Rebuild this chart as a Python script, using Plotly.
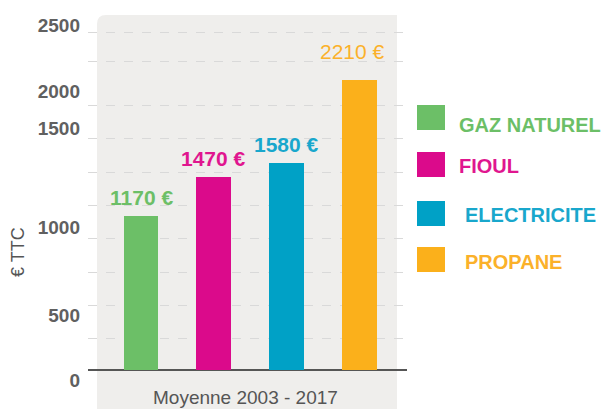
import plotly.graph_objects as go

# ---- data ----
categories = ["GAZ NATUREL", "FIOUL", "ELECTRICITE", "PROPANE"]
values = [1170, 1470, 1580, 2210]
colors = ["#6cbf67", "#db0a8b", "#00a1c6", "#fbb01b"]
text_colors = ["#6cbf67", "#e0168f", "#19a7cc", "#fbb12a"]
tick_labels = ["2500", "2000", "1500", "1000", "500", "0"]
x_title = "Moyenne 2003 - 2017"
y_title = "€ TTC"

# ---- layout helpers (pixel geometry of the picture) ----
W, H = 611, 409
L, R, T, B = 88, 407, 15, 409
Y0_PX = 370            # pixel row of value 0
UPP = 7.62             # value units per pixel


def xp(px):
    return (px - L) / (R - L)


def yp(py):
    return (B - py) / (B - T)


def val_at(py):
    return (Y0_PX - py) * UPP


y_range = [val_at(B), val_at(T)]
tick_pos = [val_at(p) for p in (25, 91, 128, 227, 315, 380)]
grid_pos = [val_at(p) for p in (338, 305, 272, 238, 205, 172, 138, 105, 61, 32)]

fig = go.Figure()
fig.add_trace(go.Bar(
    x=categories, y=values, marker=dict(color=colors, line=dict(width=0)),
    width=0.48, showlegend=False, hoverinfo="x+y",
))

annotations = []
# value labels
label_shift = [(0, 5, "bold"), (0, 5, "bold"), (0, 5, "bold"), (-7, 15, "normal")]
for c, v, tc, (dx, dy, wgt) in zip(categories, values, text_colors, label_shift):
    annotations.append(dict(
        x=c, y=v, xref="x", yref="y", text=f"{v} €", showarrow=False,
        yanchor="bottom", xanchor="center", xshift=dx, yshift=dy,
        font=dict(family="Liberation Sans, Arial", size=21, color=tc, weight=wgt),
    ))

# custom legend
shapes = []
leg_sq = [105, 152, 201, 247]
leg_txt = [(457, 125), (457, 166), (463, 215), (463, 262)]
for name, col, tc, sq, (tx, ty) in zip(categories, colors, text_colors, leg_sq, leg_txt):
    shapes.append(dict(type="rect", xref="paper", yref="paper",
                       x0=xp(417), x1=xp(445), y0=yp(sq + 25), y1=yp(sq),
                       fillcolor=col, line=dict(width=0), layer="above"))
    annotations.append(dict(
        x=xp(tx), y=yp(ty), xref="paper", yref="paper", text=name,
        showarrow=False, xanchor="left", yanchor="middle",
        font=dict(family="Liberation Sans, Arial", size=20, color=tc, weight="bold"),
    ))

# x title and y title
annotations.append(dict(
    x=xp(245), y=yp(397), xref="paper", yref="paper", text=x_title,
    showarrow=False, xanchor="center", yanchor="middle",
    font=dict(family="Liberation Sans, Arial", size=19, color="#555555"),
))
annotations.append(dict(
    x=xp(18), y=yp(252), xref="paper", yref="paper", text=y_title,
    showarrow=False, xanchor="center", yanchor="middle", textangle=-90,
    font=dict(family="Liberation Sans, Arial", size=18, color="#555555"),
))

# grey panel with rounded top-left corner
x0, x1 = xp(97), xp(397)
y0, y1 = 0, 1
rx, ry = 9 / (R - L), 9 / (B - T)
panel_path = (f"M {x0},{y0} L {x0},{y1 - ry} Q {x0},{y1} {x0 + rx},{y1} "
              f"L {x1},{y1} L {x1},{y0} Z")
shapes.insert(0, dict(type="path", xref="paper", yref="paper", path=panel_path,
                      fillcolor="#efeeec", line=dict(width=0), layer="below"))

fig.update_layout(
    width=W, height=H,
    margin=dict(l=L, r=W - R, t=T, b=H - B, pad=0),
    paper_bgcolor="white", plot_bgcolor="rgba(0,0,0,0)",
    font=dict(family="Liberation Sans, Arial", color="#555555"),
    shapes=shapes, annotations=annotations,
    bargap=0,
    xaxis=dict(type="category", range=[-0.729, 3.659], showticklabels=False,
               showgrid=False, zeroline=False, showline=False, ticks="",
               fixedrange=True),
    yaxis=dict(range=y_range, tickvals=tick_pos, ticktext=tick_labels,
               showgrid=False, ticks="", ticklabelstandoff=7,
               tickfont=dict(size=19, color="#606060", weight="bold",
                             family="Liberation Sans, Arial"),
               zeroline=True, zerolinecolor="#555555", zerolinewidth=2,
               showline=False,
               minor=dict(tickvals=grid_pos, showgrid=True, griddash="dash",
                          gridcolor="#d9d9d9", gridwidth=1, ticks=""),
               fixedrange=True),
)

fig.write_html("out.html", config={"displayModeBar": False},
               post_script="document.body.style.margin='0';"
                           "document.body.style.overflow='hidden';")
